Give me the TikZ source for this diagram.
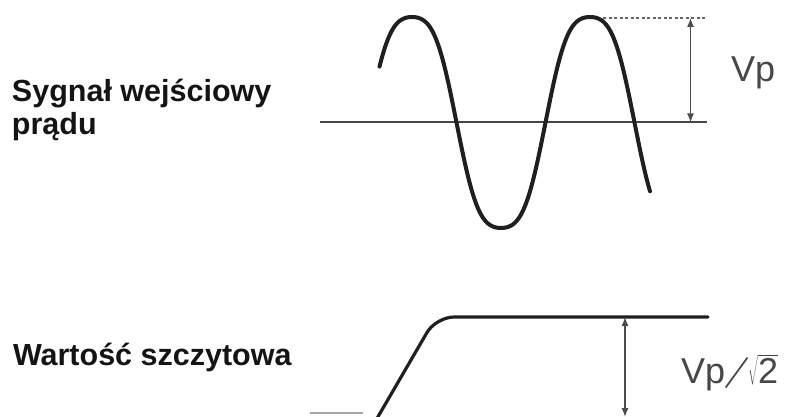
\documentclass[tikz,border=0pt]{standalone}
\usepackage{fontspec}
\usepackage{graphicx}
\setmainfont{Liberation Sans}
\usetikzlibrary{arrows.meta}

\begin{document}
\begin{tikzpicture}[
  x=1pt, y=-1pt,
  every node/.style={inner sep=0pt, outer sep=0pt},
  title/.style={font=\bfseries\fontsize{30.5}{33}\selectfont, text=black!92,
                align=left, anchor=base west},
  vlabel/.style={font=\fontsize{36}{40}\selectfont, text=black!72, anchor=base west},
  wave/.style={line width=4pt, black!88, line cap=round},
  axis/.style={line width=2pt, black!72},
  dim/.style={{Latex[length=9pt,width=7pt]}-{Latex[length=9pt,width=7pt]},
              line width=1.3pt, black!70},
  guide/.style={line width=1.3pt, black!60, dash pattern=on 3pt off 2.5pt}
]
\useasboundingbox (0,0) rectangle (795,417);
\clip (0,0) rectangle (795,417);

% ---- Labels (left column) ----
\node[title] (sig)  at (12,135) {Sygnał wejściowy\\prądu};
\node[title] (peak) at (13,365) {Wartość szczytowa};

% ---- Input signal ----
\coordinate (ax0) at (320,122.5);
\coordinate (ax1) at (707,122.5);
\draw[axis] (ax0) -- (ax1);
\draw[wave] plot[domain=379.5:650, samples=240, smooth]
  (\x, {122.5 - 105.5*(cos((\x-412)/178*360) - 0.08*cos((\x-412)/178*1080))/0.92});

% ---- Peak marker ----
\coordinate (pk)  at (603,18);
\coordinate (pkr) at (707,18);
\draw[guide] (pk) -- (pkr);
\coordinate (vt) at (690.5,18);
\coordinate (vb) at (690.5,122.5);
\draw[dim] (vt) -- (vb);
\node[vlabel] (vp) at (731,82) {Vp};

% ---- Peak value output ----
\coordinate (lo0) at (310,413);
\coordinate (lo1) at (363,413);
\draw[line width=1.5pt, black!35] (lo0) -- (lo1);
\coordinate (rp0) at (375.5,421);
\coordinate (rp1) at (436,317);
\coordinate (rp2) at (708,317);
\draw[wave, line width=3.2pt, rounded corners=18pt] (rp0) -- (rp1) -- (rp2);
\coordinate (ht) at (625,317);
\coordinate (hb) at (625,417);
\draw[dim] (ht) -- (hb);
\node[vlabel] (vpr) at (681,383)
  {Vp\raisebox{-5pt}{\rotatebox{54}{\rule{37pt}{1.7pt}}}$\sqrt{\mbox{2}}$};

\end{tikzpicture}
\end{document}
